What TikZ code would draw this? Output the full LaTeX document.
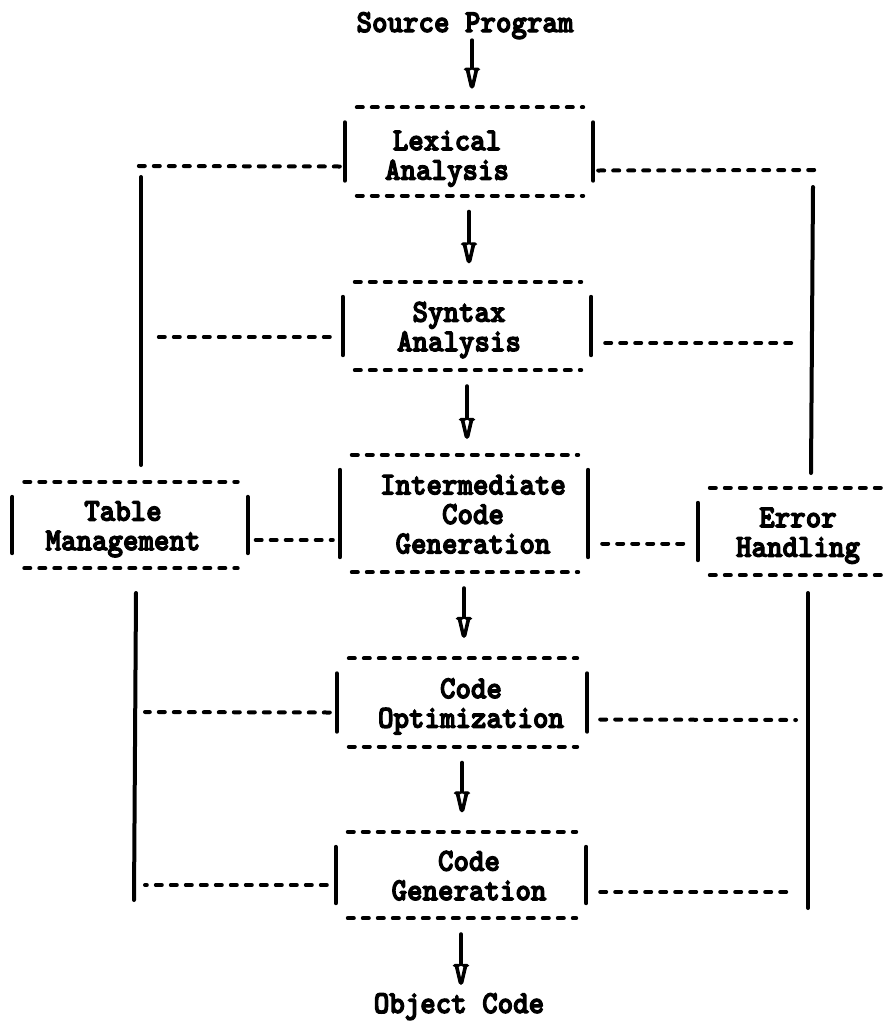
\documentclass[tikz,border=0pt]{standalone}
\usepackage{fontspec}
\setmonofont{lmmonolt10-bold.otf}[BoldFont=lmmonolt10-bold.otf,BoldFeatures={FakeBold=4}]
\usepackage{graphicx}
\usetikzlibrary{positioning}

\newcommand\tall[1]{\scalebox{1}[1.08]{\begin{tabular}{@{}c@{}}#1\end{tabular}}}
\newcommand\stagetxt[3][9pt]{\raisebox{0pt}[\dimexpr\height+#1\relax][\depth]{\hspace*{#2}\tall{#3}\hspace*{-#2}}}
\newcommand\oneline[1]{\scalebox{1}[1.08]{#1}}
\newcommand\stageframe[1]{%
	\draw[dashline] ([xshift=12pt]#1.north west) -- ([xshift=-10pt]#1.north east);
	\draw[dashline] ([xshift=12pt]#1.south west) -- ([xshift=-10pt]#1.south east);
	\draw[barline]  ([yshift=-15pt]#1.north west) -- ([yshift=15pt]#1.south west);
	\draw[barline]  ([yshift=-15pt]#1.north east) -- ([yshift=15pt]#1.south east);
}

\begin{document}
\begin{tikzpicture}[x=1pt,y=-1pt,
		every node/.style={font=\ttfamily\bfseries\fontsize{29.5}{27.3}\selectfont},
		stage/.style={inner sep=0pt,minimum width=248pt,minimum height=88pt},
		vtip/.style={inner sep=0pt},
		dashline/.style={line width=4pt,dash pattern=on 6pt off 9pt,line cap=round},
		barline/.style={line width=4pt,line cap=round}
	]
	\useasboundingbox (0,0) rectangle (890,1023);

	% main chain
	\node[inner sep=0pt,anchor=base] (src) at (465,32) {\oneline{Source Program}};
	\node[stage]                   (lex) at (469,151.5) {\stagetxt[15pt]{-22pt}{Lexical\\Analysis}};
	\node[stage]                   (syn) at (467,326)   {\stagetxt{-8pt}{Syntax\\Analysis}};
	\node[stage,minimum height=117pt] (icg) at (464,513.5) {\stagetxt{9pt}{Intermediate\\Code\\Generation}};
	\node[stage,minimum width=250pt]  (opt) at (462,702.5) {\stagetxt{9pt}{Code\\Optimization}};
	\node[stage,minimum width=250pt,minimum height=86pt] (gen) at (461,875) {\stagetxt{8pt}{Code\\Generation}};

	% side boxes
	\node[stage,minimum width=235pt,minimum height=86pt] (tbl) at (130,525) {\stagetxt{-7pt}{Table\\Management}};
	\node[stage,minimum width=200pt,minimum height=87pt] (err) at (798,531.5) {\stagetxt{0pt}{Error\\Handling}};

	\foreach \n in {lex,syn,icg,opt,gen,tbl,err} {\stageframe{\n}}

	% arrows
	\node[vtip] (v0) at (472,78)            {\oneline{V}};
	\node[vtip,below=47pt of lex] (v1)      {\oneline{V}};
	\node[vtip,below=48pt of syn] (v2)      {\oneline{V}};
	\node[vtip,below=45pt of icg] (v3)      {\oneline{V}};
	\node[vtip,below=45pt of opt] (v4)      {\oneline{V}};
	\node[vtip,below=46pt of gen] (v5)      {\oneline{V}};
	\node[inner sep=0pt,anchor=base] (obj) at (459,1013) {\oneline{Object Code}};

	\draw[barline] ([yshift=-1pt]src.south -| v0) -- (v0.north);
	\draw[barline] ([yshift=-16pt]lex.south -| v1) -- (v1.north);
	\draw[barline] ([yshift=-16pt]syn.south -| v2) -- (v2.north);
	\draw[barline] ([yshift=-16pt]icg.south -| v3) -- (v3.north);
	\draw[barline] ([yshift=-16pt]opt.south -| v4) -- (v4.north);
	\draw[barline] ([yshift=-16pt]gen.south -| v5) -- (v5.north);

	% rails
	\coordinate (railLa) at (141,177);
	\coordinate (railLb) at (141,465);
	\coordinate (railLc) at (136,593);
	\coordinate (railLd) at (134,900);
	\coordinate (railRa) at (813,187);
	\coordinate (railRb) at (811,473);
	\coordinate (railRc) at (808,593);
	\coordinate (railRd) at (808,908);
	\draw[barline] (railLa) -- (railLb);
	\draw[barline] (railLc) -- (railLd);
	\draw[barline] (railRa) -- (railRb);
	\draw[barline] (railRc) -- (railRd);

	% links to the rails
	\coordinate (lexL) at (138,166);
	\coordinate (lexR) at (818,170);
	\coordinate (synL) at (153,337);
	\coordinate (synR) at (799,343);
	\coordinate (optL) at (145,712);
	\coordinate (optR) at (796,720);
	\coordinate (genL) at (145,885);
	\coordinate (genR) at (795,892);
	\draw[dashline] ([shift={(-5pt,-15pt)}]lex.west) -- (lexL);
	\draw[dashline] ([shift={(5pt,-19pt)}]lex.east)  -- (lexR);
	\draw[dashline] ([shift={(-13pt,-11pt)}]syn.west) -- (synL);
	\draw[dashline] ([shift={(14pt,-17pt)}]syn.east) -- (synR);
	\draw[dashline] ([shift={(-7pt,-10pt)}]opt.west) -- (optL);
	\draw[dashline] ([shift={(13pt,-17pt)}]opt.east) -- (optR);
	\draw[dashline] ([shift={(-9pt,-10pt)}]gen.west) -- (genL);
	\draw[dashline] ([shift={(14pt,-17pt)}]gen.east) -- (genR);

	% middle row
	\coordinate (tic) at ([shift={(8pt,-15pt)}]tbl.east);
	\coordinate (iec) at ([shift={(14pt,-30pt)}]icg.east);
	\draw[dashline] (tic) -- ([xshift=-7pt]icg.west |- tic);
	\draw[dashline] (iec) -- ([xshift=-11pt]err.west |- iec);
\end{tikzpicture}
\end{document}
